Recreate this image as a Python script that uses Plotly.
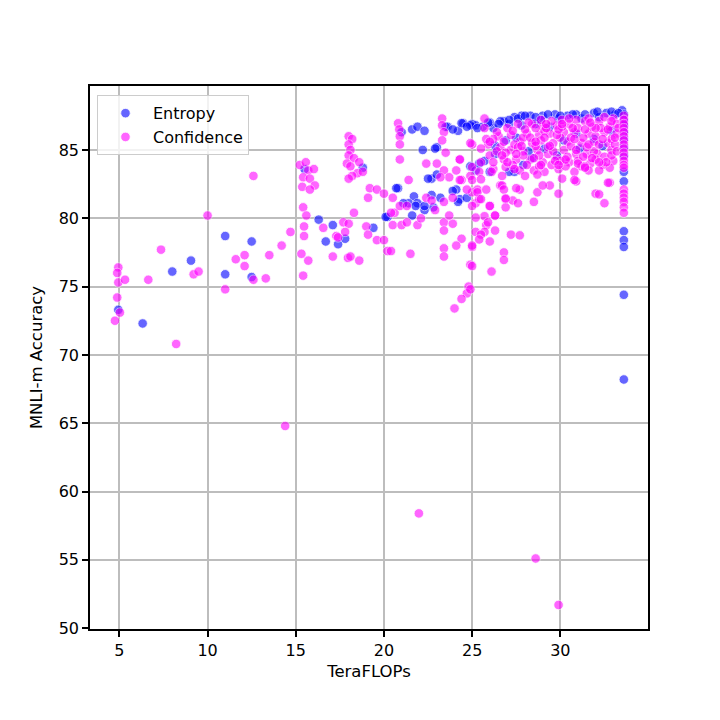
import plotly.graph_objects as go

# Entropy points (TeraFLOPs, MNLI-m accuracy)
entropy_x = [4.94, 6.32, 8.0, 9.06, 11.0, 11.0, 12.5, 12.5, 15.5, 16.3, 17.1, 16.7, 17.4, 17.8, 18.8, 19.4, 20.2,
             21.0, 21.6, 21.9, 22.3, 22.2, 23.0, 23.6, 24.2, 24.5, 25.0, 25.2, 20.8, 21.7, 21.4, 21.9, 22.7, 23.0,
             23.2, 24.1, 24.3, 22.8, 22.3, 21.6, 20.1, 24.7, 24.9, 25.2,
             24.4, 25.6, 26.2, 26.8, 27.4, 27.8, 28.3, 29.0, 29.7, 30.4, 30.9, 31.9, 32.6, 33.5,
             26.9, 26.3, 25.7, 28.4, 27.4, 27.1, 29.4, 28.9, 27.8, 30.2, 31.9, 30.9, 32.9,
             33.6, 33.6, 33.6, 33.6, 33.6, 33.6, 33.6, 33.6, 33.6, 33.6, 33.6, 33.6, 33.6, 33.6,
             22.9, 22.5, 21.1, 21.8, 22.3, 22.7, 23.9, 24.2, 20.7, 25.4, 26.0, 27.1, 28.6, 29.9, 31.2, 32.2,
             33.1, 24.9, 23.5, 26.6, 26.0,
             25.9, 26.5, 27.1, 27.6, 28.0, 28.6, 29.3, 30.0, 30.7, 31.4, 32.1, 32.9, 33.3, 25.3, 24.7, 23.9,
             26.3, 27.5, 28.2, 29.1, 31.1, 32.4, 29.8, 27.9]
entropy_y = [73.3, 72.3, 76.1, 76.9, 78.7, 75.9, 78.3, 75.7, 83.6, 79.9, 79.5, 78.3, 78.1, 78.5, 83.7, 79.3, 80.1,
             86.3, 86.5, 86.7, 86.4, 85.0, 85.2, 86.7, 86.4, 86.95, 86.9, 86.8, 82.2, 81.6, 81.1, 81.1, 82.9, 83.2,
             81.5, 82.1, 81.4, 80.8, 80.6, 80.2, 80.1, 81.5, 83.8, 83.5,
             86.96, 86.7, 86.6, 87.1, 87.4, 87.5, 87.5, 87.5, 87.6, 87.5, 87.6, 87.7, 87.7, 87.9,
             85.7, 84.7, 84.2, 84.4, 83.4, 83.4, 86.7, 87.2, 86.8, 85.7, 85.8, 86.2, 86.4,
             87.6, 87.2, 86.8, 86.3, 85.8, 85.2, 84.6, 83.4, 82.7, 79.05, 78.4, 77.9, 74.4, 68.2,
             85.1, 82.9, 81.1, 80.9, 80.9, 81.7, 82.0, 81.2, 82.2, 84.0, 87.0, 86.9, 86.9, 87.3, 87.3, 87.4,
             87.6, 86.8, 86.7, 87.1, 83.4,
             87.0, 86.9, 87.2, 87.3, 87.5, 87.4, 87.6, 87.5, 87.6, 87.6, 87.8, 87.8, 87.7, 86.6, 86.7, 86.5,
             85.3, 85.9, 84.9, 85.1, 85.1, 85.3, 84.6, 83.9]

# Confidence points
confidence_x = [4.94, 4.88, 4.94, 5.32, 4.88, 5.03, 4.75, 6.64, 7.36, 8.22, 9.21, 9.49, 10.0, 11.0, 11.6, 12.1,
                12.1, 12.6, 12.6, 13.3, 13.5, 14.2, 14.7, 14.4,
                15.23, 15.57, 15.71, 16.03, 15.42, 15.8, 16.08, 15.37, 15.8, 15.42, 15.6, 15.47, 15.47, 15.32,
                15.71, 15.42, 16.56, 17.1, 17.3,
                18.0, 18.2, 18.0, 18.1, 18.0, 18.3, 17.9, 18.1, 18.6, 18.5, 18.2, 18.0, 18.8, 19.2, 19.6, 19.1,
                20.0, 18.3, 17.7, 18.0, 17.8, 17.4, 17.96, 18.1, 18.6, 19.0, 19.6, 20.0, 20.2, 19.1,
                20.8, 20.87, 20.9, 20.9, 20.9, 21.4, 22.4, 23.3, 23.3, 23.4, 23.3, 23.5, 23.0, 23.4, 23.7, 23.2,
                24.3, 24.1, 24.4, 24.9, 25.0, 25.2, 25.0, 25.2, 25.0, 24.9, 24.8, 24.7, 24.4, 24.0, 20.5, 20.6,
                20.5, 21.0, 21.3, 21.9, 20.4, 21.5, 20.9, 21.3, 22.1, 22.4, 22.9, 23.4, 23.4, 23.9, 23.4, 23.7,
                23.9, 23.4, 23.4, 24.4, 24.1, 22.7, 20.4, 21.98, 28.6, 29.9,
                28.4, 29.0, 29.8, 30.5, 31.4, 32.2, 33.0,
                28.1, 28.8, 29.4, 30.2, 30.8, 31.6, 32.5, 33.2,
                27.7, 28.4, 28.9, 29.6, 30.4, 31.2, 31.9, 32.7,
                27.2, 27.9, 28.7, 29.3, 30.2, 30.9, 31.5, 32.1, 32.5,
                26.8, 27.5, 28.3, 29.0, 29.8, 30.5, 31.0, 32.4,
                26.2, 26.9, 27.7, 28.5, 29.1, 29.9, 30.8,
                26.5, 27.2, 27.9, 28.6, 29.3, 30.0, 30.6, 31.3, 32.0, 32.8, 31.8, 30.1, 29.1, 27.4, 26.6, 30.9,
                31.9, 32.9, 33.0, 32.8, 31.7, 30.3, 29.5, 28.8, 27.3, 26.0, 25.9, 26.4,
                27.0, 27.6, 28.2, 28.9, 29.5, 30.1, 30.9, 31.6, 32.5, 33.2, 32.9, 32.2, 31.5, 30.6, 29.8, 29.1,
                28.3, 27.6, 26.9, 27.9, 28.8, 29.6, 30.4, 31.3, 32.0, 32.9, 31.2, 30.0, 28.1, 27.0, 26.4, 26.2,
                26.8, 31.0, 32.3, 33.1,
                27.3, 28.0, 28.6, 29.2, 29.9, 30.7, 31.4, 32.0, 32.7, 33.1, 28.5, 29.7, 30.3, 31.0, 31.8, 32.6,
                27.8, 28.6, 29.4, 30.8, 31.6, 32.4, 33.2, 28.9, 29.9, 31.4, 32.2, 27.5, 30.1, 31.7, 32.9, 26.7,
                33.3, 29.2, 30.5, 27.4,
                25.7, 25.7, 25.8, 26.0, 24.9, 25.5, 24.3, 25.5, 26.2, 25.0, 25.4, 26.1, 26.7, 24.3, 25.0, 24.7,
                25.3, 26.6, 26.9, 25.4, 25.0, 26.0, 26.9, 26.3, 25.8,
                25.5, 26.7, 26.8, 27.7, 27.5, 25.3, 25.8, 28.7, 29.4, 29.0, 29.9, 30.9, 32.8, 32.0, 32.2, 32.5,
                28.5, 27.3, 27.6, 26.9, 25.5, 26.0, 26.3, 25.7, 25.2, 25.9, 26.3, 25.7, 25.5, 25.4, 26.0, 25.0,
                27.2, 27.7, 26.8, 26.8, 25.0, 26.1, 24.9, 28.0, 28.7, 30.1, 30.8, 31.6, 31.4, 32.2, 32.7,
                33.6, 33.6, 33.6, 33.6, 33.6, 33.6, 33.6, 33.6, 33.6, 33.6, 33.6, 33.6, 33.6, 33.6, 33.6, 33.6,
                33.6, 33.6, 33.6, 33.6]
confidence_y = [76.4, 76.0, 75.3, 75.5, 74.2, 73.1, 72.5, 75.5, 77.7, 70.8, 75.9, 76.1, 80.2, 74.8, 77.0, 77.3,
                76.5, 83.1, 75.5, 75.6, 77.3, 78.0, 79.0, 64.8,
                83.9, 84.1, 83.5, 83.6, 83.0, 82.9, 82.4, 82.3, 82.1, 80.8, 80.2, 79.4, 78.7, 77.4,
                76.9, 75.8, 79.3, 77.2, 78.7,
                86.0, 85.8, 85.4, 85.0, 84.6, 84.4, 84.0, 83.8, 84.1, 83.3, 83.1, 82.9, 83.4, 82.2, 82.1, 81.5,
                81.8, 80.4, 79.7, 79.6, 79.0, 78.6, 77.1, 77.2, 76.9, 79.4, 78.4, 78.4, 77.6, 78.8,
                86.95, 86.5, 86.0, 85.4, 84.3, 82.8, 84.0, 87.3, 86.8, 86.3, 85.7, 84.8, 84.0, 83.5, 83.0, 83.0,
                84.3, 83.5, 82.8, 83.1, 85.4, 81.1, 81.9, 79.0, 77.9, 76.6, 75.0, 74.5, 74.1, 73.4, 81.5, 80.4,
                79.5, 79.5, 79.7, 79.5, 77.6, 77.4, 80.9, 80.9, 80.0, 81.5, 80.6, 81.2, 79.7, 79.6, 79.1, 80.2,
                81.5, 77.8, 77.2, 78.5, 78.0, 81.3, 80.4, 58.4, 55.1, 51.7,
                86.9, 86.7, 86.8, 86.9, 87.1, 87.1, 87.3,
                86.2, 86.1, 86.2, 86.3, 86.3, 86.2, 86.3, 86.2,
                85.6, 85.5, 85.7, 85.5, 85.6, 85.5, 85.6, 85.5,
                85.0, 84.9, 85.0, 84.7, 85.0, 84.7, 84.7, 84.7, 84.5,
                84.3, 84.3, 84.3, 84.1, 84.4, 84.1, 84.2, 83.9,
                83.6, 83.75, 83.5, 83.5, 83.4, 83.6, 83.4,
                86.0, 86.1, 85.9, 85.3, 85.2, 85.9, 85.3, 85.9, 86.0, 86.7, 86.7, 86.7, 86.4, 85.4, 85.2, 85.0,
                84.9, 85.0, 84.2, 83.7, 84.0, 83.8, 83.9, 83.8, 83.9, 84.6, 85.4, 86.3,
                86.6, 86.9, 87.0, 87.2, 87.1, 87.2, 87.2, 87.3, 87.4, 86.9, 85.8, 85.4, 85.2, 85.9, 86.1, 85.9,
                85.9, 85.2, 84.8, 84.6, 84.6, 84.9, 84.5, 84.5, 84.3, 84.6, 83.8, 84.2, 83.9, 84.1, 84.9, 85.8,
                85.6, 86.6, 86.6, 85.4,
                86.4, 86.5, 86.6, 86.6, 86.5, 86.6, 86.5, 86.6, 86.5, 85.9, 84.4, 84.2, 84.3, 84.0, 84.4, 84.1,
                85.3, 85.6, 85.3, 85.8, 85.4, 85.8, 84.9, 83.9, 83.9, 83.8, 83.5, 84.7, 86.9, 87.0, 87.1, 84.6,
                86.6, 86.9, 87.3, 83.6,
                87.3, 86.6, 85.8, 85.6, 85.5, 85.1, 84.3, 84.1, 84.1, 83.75, 83.4, 83.4, 83.1, 82.8, 82.8, 82.1,
                82.1, 82.4, 81.4, 81.4, 80.9, 80.9, 80.8, 80.2, 79.5,
                82.85, 82.4, 82.1, 82.1, 82.2, 81.9, 82.1, 81.9, 82.4, 82.4, 81.8, 82.7, 82.6, 81.8, 81.75, 81.1,
                81.2, 81.3, 81.1, 81.45, 81.4, 80.9, 80.2, 80.15, 80.05, 79.7, 79.1, 79.0, 78.8, 78.45, 78.3, 78.0,
                78.8, 78.75, 77.5, 76.95, 76.5, 76.1, 74.8, 83.1, 83.2, 82.9, 82.8, 83.5, 83.7, 84.1, 82.6,
                87.5, 87.2, 86.9, 86.6, 86.3, 86.0, 85.7, 85.4, 85.1, 84.8, 84.5, 84.2, 83.9, 83.7, 82.1, 81.8,
                81.5, 81.2, 80.8, 80.4]

x_ticks = [5, 10, 15, 20, 25, 30]
y_ticks = [50, 55, 60, 65, 70, 75, 80, 85]

fig = go.Figure()
fig.add_trace(go.Scatter(x=entropy_x, y=entropy_y, mode="markers", name="Entropy",
                         marker=dict(color="#0000ff", size=9.5, opacity=0.6,
                                     line=dict(color="white", width=0.8))))
fig.add_trace(go.Scatter(x=confidence_x, y=confidence_y, mode="markers", name="Confidence",
                         marker=dict(color="#ff00ff", size=9.5, opacity=0.6,
                                     line=dict(color="white", width=0.8))))

axis_style = dict(showline=True, mirror=True, linecolor="black", linewidth=1.6,
                  ticks="outside", ticklen=6, tickwidth=1.5, tickcolor="black",
                  showgrid=True, gridcolor="#bdbdbd", gridwidth=1.5, zeroline=False,
                  tickfont=dict(size=16, color="black"))
fig.update_xaxes(axis_style, range=[3.335, 34.97], tickvals=x_ticks,
                 title=dict(text="TeraFLOPs", font=dict(size=16.5, color="black"), standoff=6))
fig.update_yaxes(axis_style, range=[49.94, 89.68], tickvals=y_ticks,
                 title=dict(text="MNLI-m Accuracy", font=dict(size=16.5, color="black"), standoff=12))

# the page body adds an 8px offset, so margins are shifted to compensate
fig.update_layout(width=720, height=720, margin=dict(l=82, r=80, t=78, b=99),
                  plot_bgcolor="white", paper_bgcolor="white",
                  font=dict(family="DejaVu Sans", color="black"),
                  legend=dict(x=0.0125, y=0.983, xanchor="left", yanchor="top",
                              bgcolor="rgba(255,255,255,0.8)", bordercolor="#cccccc", borderwidth=1,
                              font=dict(size=16, color="black"), tracegroupgap=4, itemwidth=45),
                  showlegend=True)
fig.write_html("out.html")
